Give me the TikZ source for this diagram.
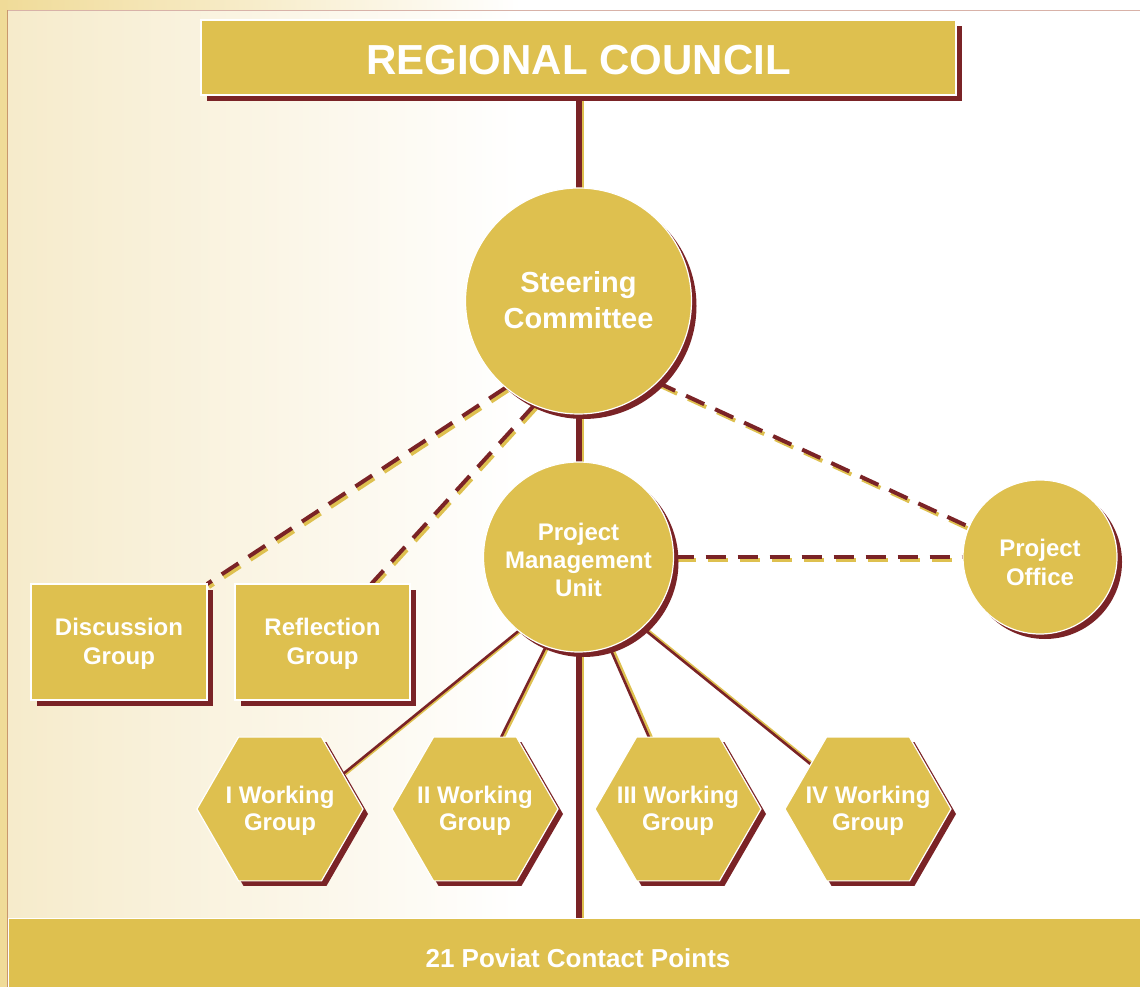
\documentclass[tikz,border=0pt]{standalone}
\usepackage{fontspec}
\setmainfont{Liberation Sans}
\usetikzlibrary{shapes.geometric,shadows,calc}
\definecolor{gold}{HTML}{DEC04F}
\definecolor{dred}{HTML}{7A2326}
\definecolor{cream}{HTML}{F6EBCB}
\definecolor{strip}{HTML}{F0DB98}
\definecolor{frameL}{HTML}{C9976E}
\definecolor{frameT}{HTML}{D8B2A8}
\pgfdeclarelayer{bg}
\pgfdeclarelayer{lines}
\pgfsetlayers{bg,lines,main}
\begin{document}
\begin{tikzpicture}[x=1pt,y=-1pt,
  shapebase/.style={fill=gold, draw=white, line width=1.2pt, inner sep=0pt, outer sep=0pt},
  txt/.style={text=white, align=center, inner sep=0pt, font=\fontsize{24}{28}\selectfont\bfseries},
  hextxt/.style={txt, font=\fontsize{24}{27}\selectfont\bfseries, yshift=-2pt},
  shad/.style={general shadow={shadow xshift=#1, shadow yshift=-#1, fill=dred, draw=none}},
  boxnode/.style={shapebase, rectangle, shad=6pt},
  circnode/.style={shapebase, circle, shad=5pt},
  hexnode/.style={shapebase, regular polygon, regular polygon sides=6, minimum size=166pt, shad=5pt},
  barnode/.style={shapebase, rectangle, line width=1pt},
  vline/.style={dred, line width=6pt, preaction={draw=gold, line width=6pt, transform canvas={xshift=2.2pt}}},
  sline/.style={dred, line width=2.6pt, preaction={draw=gold, line width=2.6pt, transform canvas={xshift=2.6pt}}},
  dline/.style={dred, line width=4pt, dash pattern=on 20pt off 12pt,
    preaction={draw=gold, line width=4pt, dash pattern=on 20pt off 12pt, transform canvas={xshift=2pt, yshift=-3pt}}}
]
\useasboundingbox (0,0) rectangle (1140,987);
\begin{pgfonlayer}{bg}
  \fill[white] (0,0) rectangle (1140,987);
  \shade[left color=strip, right color=white] (0,0) rectangle (520,11);
  \shade[left color=cream, right color=white] (8,11) rectangle (520,987);
  \fill[strip] (0,0) rectangle (7,987);
  \draw[frameT, line width=1.5pt] (7,10.5) -- (1140,10.5);
  \draw[frameL, line width=1.5pt] (7.5,987) -- (7.5,10);
\end{pgfonlayer}

\node[boxnode, minimum width=755pt, minimum height=75pt,
  label={[txt, font=\fontsize{42}{50}\selectfont\bfseries, yshift=-2.5pt]center:REGIONAL COUNCIL}]
  (council) at (578.5,57.5) {};
\node[circnode, minimum size=226pt,
  label={[txt, font=\fontsize{29}{36}\selectfont\bfseries, yshift=1pt]center:Steering\\Committee}]
  (steer) at (578.5,301) {};
\node[circnode, minimum size=190pt,
  label={[txt, yshift=-3pt]center:Project\\Management\\Unit}]
  (pmu) at (578.5,557) {};
\node[circnode, minimum size=154pt,
  label={[txt, font=\fontsize{24}{29}\selectfont\bfseries, yshift=-5pt]center:Project\\Office}]
  (office) at (1040,557) {};
\node[boxnode, minimum width=176pt, minimum height=116pt,
  label={[txt, font=\fontsize{24}{29}\selectfont\bfseries, yshift=-2pt]center:Discussion\\Group}]
  (disc) at (119,642) {};
\node[boxnode, minimum width=175pt, minimum height=116pt,
  label={[txt, font=\fontsize{24}{29}\selectfont\bfseries, yshift=-2pt]center:Reflection\\Group}]
  (refl) at (322.5,642) {};
\node[hexnode, label={[hextxt]center:I Working\\Group}] (wg1) at (280,809) {};
\node[hexnode, label={[hextxt]center:II Working\\Group}] (wg2) at (475,809) {};
\node[hexnode, label={[hextxt]center:III Working\\Group}] (wg3) at (678,809) {};
\node[hexnode, label={[hextxt]center:IV Working\\Group}] (wg4) at (868,809) {};
\node[barnode, minimum width=1132pt, minimum height=69pt,
  label={[txt, font=\fontsize{26}{30}\selectfont\bfseries, xshift=4pt, yshift=-6pt]center:21 Poviat Contact Points}]
  (bar) at (574,952.5) {};

\begin{pgfonlayer}{lines}
  \draw[vline] (council) -- (steer);
  \draw[vline] (steer) -- (pmu);
  \draw[vline] (pmu) -- (pmu.south |- bar.north);
  \draw[dline] (steer.-130) -- (disc.north east);
  \draw[dline] (steer.-113) -- (refl.50);
  \draw[dline] (steer.-46) -- (office.157);
  \draw[dline] (pmu) -- (office);
  \draw[sline] (pmu.-129) -- (wg1.29);
  \draw[sline] (pmu.-110) -- (wg2.70);
  \draw[sline] (pmu.-71) -- (wg3.112);
  \draw[sline] (pmu.-48) -- (wg4.142);
\end{pgfonlayer}
\end{tikzpicture}
\end{document}
